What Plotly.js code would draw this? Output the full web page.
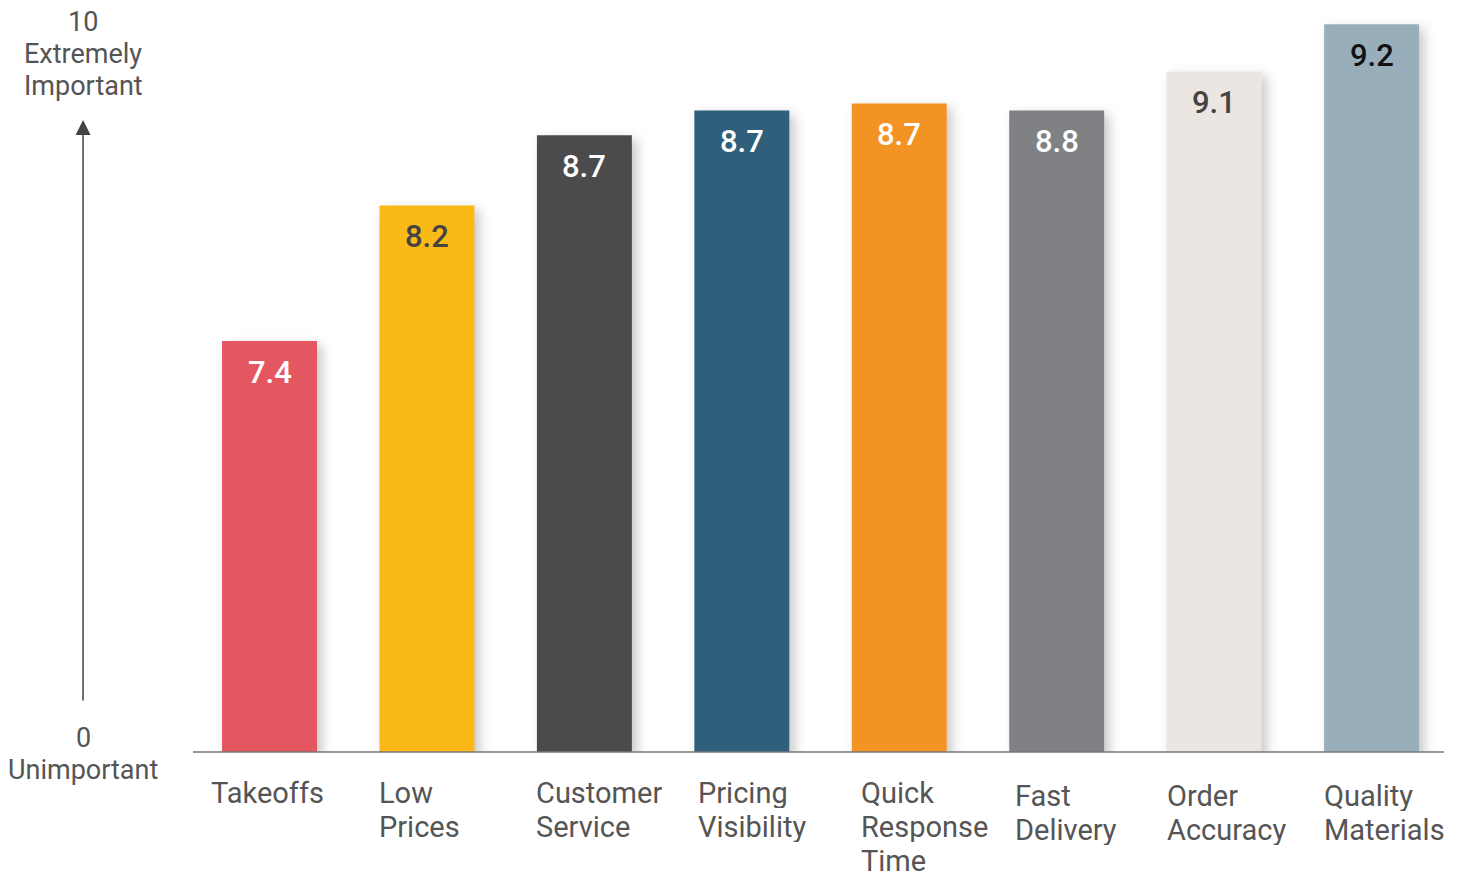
<!DOCTYPE html>
<html>
<head>
<meta charset="utf-8">
<script src="https://cdn.plot.ly/plotly-3.0.1.min.js"></script>
<style>
html,body{margin:0;padding:0;background:#fff;}
#chart{width:1463px;height:878px;}
</style>
</head>
<body>
<div id="chart"></div>
<script>
// Categories (multi-line labels) and data
const categories = ["Takeoffs", "Low<br>Prices", "Customer<br>Service", "Pricing<br>Visibility", "Quick<br>Response<br>Time", "Fast<br>Delivery", "Order<br>Accuracy", "Quality<br>Materials"];
// Labels printed on the bars
const displayValues = ["7.4", "8.2", "8.7", "8.7", "8.7", "8.8", "9.1", "9.2"];
// Bar heights as drawn in the picture (the picture is not to scale with its labels)
const barHeights = [7.40, 8.17, 8.57, 8.71, 8.75, 8.71, 8.93, 9.20];
const yTopLabel = ["10", "Extremely", "Important"];
const yBottomLabel = ["0", "Unimportant"];

const barColors = ["#E45760", "#FBB917", "#4B4B4D", "#2F5F7A", "#F39324", "#808184", "#EBE6E2", "#98AFBB"];
const labelColors = ["#ffffff", "#444444", "#ffffff", "#ffffff", "#ffffff", "#ffffff", "#444444", "#111111"];

const idx = categories.map((_, i) => i);
const FONT = "Roboto, 'Open Sans', sans-serif";
const TXT = "#555555";

const trace = {
  type: "bar",
  x: idx,
  y: barHeights,
  marker: {color: barColors, line: {width: 0}},
  hoverinfo: "skip",
  showlegend: false
};

// per-label layout nudges (pixels)
const catXNudge = [-13, -2, -3, 2, 7, 4, -2, -2];
const catYNudge = [0, 0, 0, 0, 0, 3, 3, 3];

const annotations = [];
idx.forEach(i => {
  annotations.push({
    x: i, y: barHeights[i], xref: "x", yref: "y",
    text: displayValues[i], showarrow: false,
    yanchor: "middle", yshift: -31,
    font: {family: FONT, size: 31, color: labelColors[i], weight: 500}
  });
  categories[i].split("<br>").forEach((line, k) => {
    annotations.push({
      x: i, y: 0, xref: "x", yref: "paper",
      text: line, showarrow: false,
      xanchor: "left", yanchor: "middle", align: "left",
      height: 30, valign: "middle",
      xshift: -47.5 + catXNudge[i], yshift: -41 - catYNudge[i] - 34 * k,
      font: {family: FONT, size: 29, color: TXT}
    });
  });
});
// Y axis decorations
const axX = -0.0879;
yTopLabel.forEach((line, k) => {
  annotations.push({
    x: axX, y: (752 - 22) / 742, xref: "paper", yref: "paper",
    text: line, showarrow: false, xanchor: "center", yanchor: "middle",
    yshift: -32 * k,
    font: {family: FONT, size: 27, color: TXT}
  });
});
yBottomLabel.forEach((line, k) => {
  annotations.push({
    x: axX, y: (752 - 738) / 742, xref: "paper", yref: "paper",
    text: line, showarrow: false, xanchor: "center", yanchor: "middle",
    yshift: -32 * k,
    font: {family: FONT, size: 27, color: TXT}
  });
});
annotations.push({
  x: axX, y: (752 - 120) / 742, xref: "paper", yref: "paper",
  ax: 0, ay: 582, axref: "pixel", ayref: "pixel",
  text: "", showarrow: true, arrowhead: 2, arrowsize: 2, arrowwidth: 1.5,
  arrowcolor: "#444444"
});

const layout = {
  width: 1463, height: 878,
  margin: {l: 193, r: 19, t: 10, b: 126},
  paper_bgcolor: "#ffffff", plot_bgcolor: "#ffffff",
  bargap: 0.397,
  xaxis: {
    range: [-0.486, 7.46], showticklabels: false, showgrid: false, zeroline: false,
    ticks: "", showline: false, fixedrange: true
  },
  yaxis: {
    range: [5.065, 9.281], showticklabels: false, showgrid: false, zeroline: false,
    ticks: "", showline: false, fixedrange: true
  },
  shapes: [{
    type: "line", xref: "paper", yref: "paper", x0: 0, x1: 1, y0: 0, y1: 0,
    line: {color: "#777777", width: 1.5}
  }],
  annotations: annotations,
  font: {family: FONT}
};

Plotly.newPlot("chart", [trace], layout, {displayModeBar: false, staticPlot: true}).then(() => {
  document.querySelectorAll(".bars .point path").forEach(p => {
    p.style.filter = "drop-shadow(5px 4px 6px rgba(0,0,0,0.22))";
  });
});
</script>
</body>
</html>
